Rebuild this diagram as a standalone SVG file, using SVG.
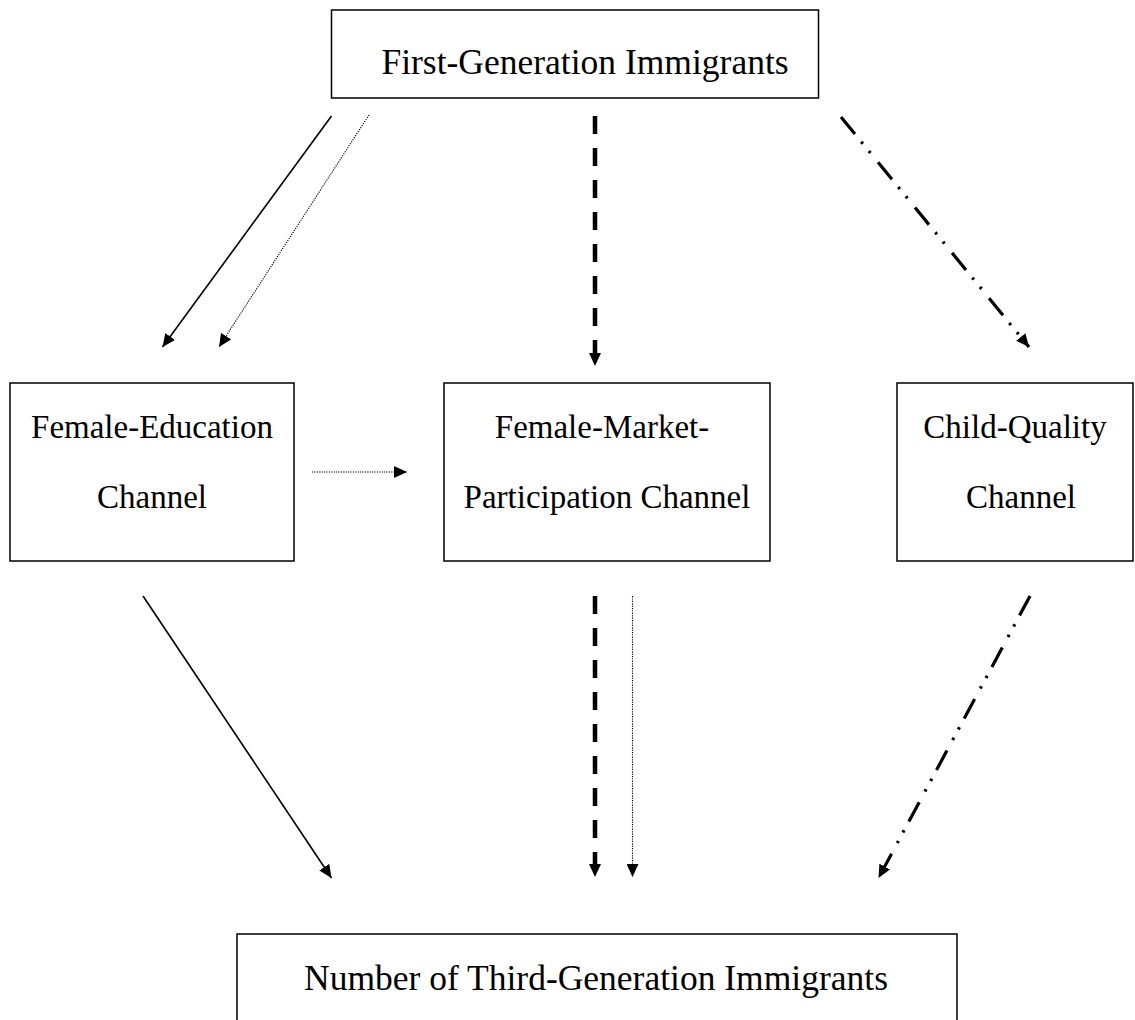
<svg xmlns="http://www.w3.org/2000/svg" width="1135" height="1020" viewBox="0 0 1135 1020">
<style>
.box{fill:#fff;stroke:#000;stroke-width:1.5}
.t{font-family:"Liberation Serif","Times New Roman",serif;fill:#000}
.big{font-size:35.5px}
.mid{font-size:33px}
.solid{stroke:#000;stroke-width:1.6;fill:none}
.dot{stroke:#000;stroke-width:1.1;stroke-dasharray:1.2 1.2;fill:none}
.dash{stroke:#000;stroke-width:4.5;stroke-dasharray:18 14;fill:none}
.dd{stroke:#000;stroke-width:3.2;stroke-dasharray:22 10 2.5 9.5 2.5 12;fill:none}
</style>
<defs>
<marker id="ah" markerUnits="userSpaceOnUse" markerWidth="13" markerHeight="12" refX="13" refY="6" orient="auto" viewBox="0 0 13 12">
<path d="M0,0 L13,6 L0,12 z" fill="#000"/>
</marker>
</defs>
<rect width="1135" height="1020" fill="#fff"/>
<g id="n-first">
<rect class="box" x="331.5" y="10" width="487" height="88"/>
<text class="t big" x="585" y="74" text-anchor="middle">First-Generation Immigrants</text>
</g>
<g id="n-edu">
<rect class="box" x="10" y="383" width="284" height="178"/>
<text class="t mid" x="152" y="438" text-anchor="middle">Female-Education</text>
<text class="t mid" x="152" y="508" text-anchor="middle">Channel</text>
</g>
<g id="n-market">
<rect class="box" x="444" y="383" width="326" height="178"/>
<text class="t mid" x="602" y="438" text-anchor="middle">Female-Market-</text>
<text class="t mid" x="607" y="508" text-anchor="middle">Participation Channel</text>
</g>
<g id="n-child">
<rect class="box" x="897" y="383" width="236" height="178"/>
<text class="t mid" x="1015" y="438" text-anchor="middle">Child-Quality</text>
<text class="t mid" x="1021" y="508" text-anchor="middle">Channel</text>
</g>
<g id="n-third">
<rect class="box" x="237" y="934" width="720" height="120"/>
<text class="t big" x="596" y="990" text-anchor="middle">Number of Third-Generation Immigrants</text>
</g>
<g id="connectors">
<line class="solid" x1="331.5" y1="116" x2="162.5" y2="347" marker-end="url(#ah)"/>
<line class="dot" x1="369" y1="115" x2="219" y2="347" marker-end="url(#ah)"/>
<line class="dash" x1="595" y1="116" x2="595" y2="366" marker-end="url(#ah)"/>
<line class="dd" x1="841" y1="117" x2="1029" y2="347" marker-end="url(#ah)"/>
<line class="dot" x1="312" y1="472" x2="407" y2="472" marker-end="url(#ah)"/>
<line class="solid" x1="143" y1="596" x2="331.5" y2="878" marker-end="url(#ah)"/>
<line class="dash" x1="595" y1="596" x2="595" y2="877" marker-end="url(#ah)"/>
<line class="dot" x1="632.5" y1="596" x2="632.5" y2="877" marker-end="url(#ah)"/>
<line class="dd" x1="1030" y1="596" x2="878.5" y2="878" marker-end="url(#ah)"/>
</g>
</svg>
